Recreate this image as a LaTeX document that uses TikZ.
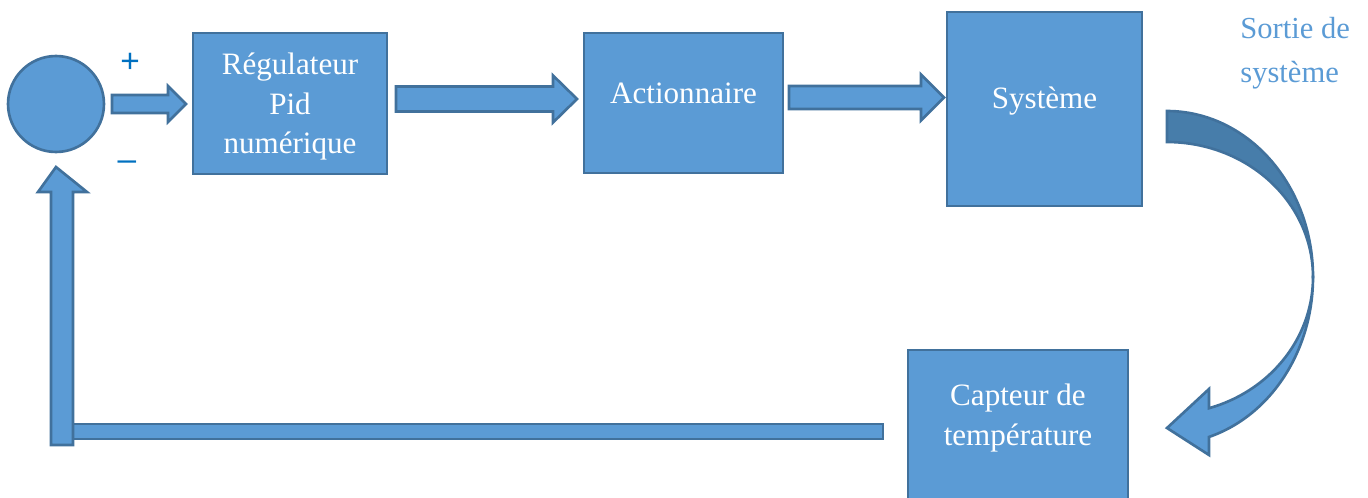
\documentclass[tikz,border=0pt]{standalone}
\usepackage{fontspec}
\setmainfont{Liberation Serif}
\newfontfamily\signfont{Liberation Sans}
\usetikzlibrary{calc}
\definecolor{fillblue}{RGB}{91,155,213}
\definecolor{edgeblue}{RGB}{65,113,156}
\definecolor{backblue}{RGB}{71,125,170}
\definecolor{signblue}{RGB}{0,112,192}
\definecolor{outtext}{RGB}{91,155,213}
\tikzset{
  blockbox/.style={draw=edgeblue, fill=fillblue, line width=1.5pt, rectangle, inner sep=0pt, outer sep=0pt},
  barrow/.style={draw=edgeblue, fill=fillblue, line width=1.5pt, line join=miter},
  backband/.style={draw=edgeblue, fill=backblue, line width=1.5pt, line join=miter},
  boxtext/.style={text=white, font=\fontsize{17.7}{22.7}\selectfont, align=center, inner sep=0pt},
  signtext/.style={text=signblue, font=\signfont\fontsize{19}{22}\selectfont, inner sep=0pt},
  outlabel/.style={text=outtext, font=\fontsize{17.4}{25}\selectfont, align=left, inner sep=0pt, anchor=west},
}
% horizontal block arrow: #1 start, #2 tip, #3 shaft half width, #4 head half width, #5 head length
\newcommand\harrow[5]{%
  \draw[barrow] ($(#1)+(0,-#3)$) -- ($(#2)+(-#5,-#3)$) -- ($(#2)+(-#5,-#4)$) -- (#2)
    -- ($(#2)+(-#5,#4)$) -- ($(#2)+(-#5,#3)$) -- ($(#1)+(0,#3)$) -- cycle;}
\begin{document}
\begin{tikzpicture}[x=0.02cm, y=-0.02cm]
\useasboundingbox (0,0) rectangle (1368,497);

% blocks
\node[blockbox, circle, minimum size=1.92cm] (sum) at (56,104) {};
\node[blockbox, minimum width=3.88cm, minimum height=2.82cm] (reg) at (290,103.5) {};
\node[blockbox, minimum width=3.98cm, minimum height=2.8cm] (act) at (683.5,103) {};
\node[blockbox, minimum width=3.9cm, minimum height=3.88cm] (sys) at (1044.5,109) {};
\node[blockbox, minimum width=4.4cm, minimum height=3.2cm] (cap) at (1018,430) {};

% texts
\node[boxtext] (regtext) at (290,106.5) {Régulateur\\Pid\\numérique};
\node[boxtext] (acttext) at (683.5,93) {Actionnaire};
\node[boxtext] (systext) at (1044.5,101) {Système};
\node[boxtext] (captext) at (1018,418) {Capteur de\\température};
\node[outlabel] (sortie) at (1240,53) {Sortie de\\système};
\node[signtext] (plus) at (130,63) {+};
\node[signtext] (minus) at (127,166) {–};

% forward block arrows
\coordinate (a1s) at ([xshift=0.16cm]sum.east |- 0,104);
\coordinate (a1t) at ([xshift=-0.14cm]reg.west |- 0,104);
\harrow{a1s}{a1t}{9}{18}{18}
\coordinate (a2s) at ([xshift=0.18cm]reg.east |- 0,99);
\coordinate (a2t) at ([xshift=-0.14cm]act.west |- 0,99);
\harrow{a2s}{a2t}{12.5}{23.5}{24}
\coordinate (a3s) at ([xshift=0.12cm]act.east |- 0,97.5);
\coordinate (a3t) at ([xshift=-0.06cm]sys.west |- 0,97.5);
\harrow{a3s}{a3t}{11.5}{23}{23}

% curved arrow from Systeme to Capteur
\coordinate (cc) at (1167,277);
\path[backband] plot[domain=-90:0, samples=50] ({1167+146*cos(\x)},{277+166*sin(\x)})
  -- plot[domain=0:-90, samples=50] ({1167+146*cos(\x)},{277+135*sin(\x)}) -- cycle;
\coordinate (ctip) at (1167,428);
\path[barrow] plot[domain=0:73.3, samples=50] ({1167+146*cos(\x)},{277+167*sin(\x)})
  -- (1209,455) -- (ctip) -- (1209,389)
  -- plot[domain=73.3:0, samples=50] ({1167+146*cos(\x)},{277+137*sin(\x)}) -- cycle;

% feedback path
\coordinate (fbr) at ([xshift=-0.5cm]cap.west |- 0,431.5);
\draw[barrow] ($(fbr)+(0,-7.5)$) rectangle (62,439);
\coordinate (fbtip) at (sum.south |- 0,167);
\draw[barrow] (51,445) -- (51,192) -- (38,192) -- (fbtip) -- (87,192) -- (73,192) -- (73,445) -- cycle;
\end{tikzpicture}
\end{document}
